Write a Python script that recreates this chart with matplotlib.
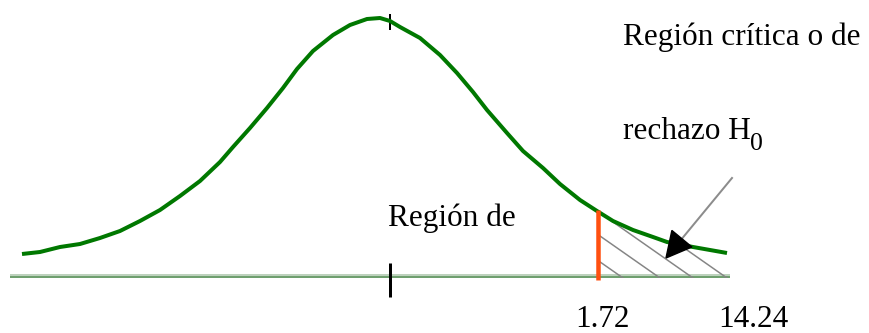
import matplotlib.pyplot as plt
import numpy as np
from matplotlib.patches import Polygon

# everything is in picture pixels (x right, y down)
curve_x = [22, 40, 60, 80, 100, 120, 140, 160, 180, 200, 220, 233, 250, 267, 283,
           297, 313, 333, 350, 367, 380, 390, 400, 420, 440, 457, 473, 487, 507,
           523, 543, 560, 580, 597, 613, 633, 653, 667, 693, 727]
curve_y = [254, 252, 247, 244, 238, 231, 221, 210, 196, 181, 162, 147, 128, 108, 88,
           69, 51, 35, 25, 19, 18, 21, 27, 38, 55, 73, 92, 110, 133,
           151, 168, 184, 200, 211, 221, 230, 237, 242, 247, 253]

axis_x = [10, 730]
axis_y = 276
center_x = 390
crit_x = 598
crit_top = 210
hatch_ends = [623, 660, 693, 727]   # where the hatch strokes meet the axis
hatch_slope = 0.7

arrow_start = (732, 178)
arrow_tip = (666, 258)

tick_labels = ['1.72', '14.24']
tick_label_x = [575, 718]

fig = plt.figure(figsize=(8.7, 3.33), dpi=100)
ax = fig.add_axes([0, 0, 1, 1])
ax.set_xlim(0, 870)
ax.set_ylim(333, 0)
ax.axis('off')

px = 72 / 100  # points per pixel

# axis line (two-tone)
ax.plot(axis_x, [axis_y - 1.5, axis_y - 1.5], color='#bdd2bd', lw=2 * px, solid_capstyle='butt', zorder=1)
ax.plot(axis_x, [axis_y + 0.7, axis_y + 0.7], color='#6f9f6f', lw=2 * px, solid_capstyle='butt', zorder=1)

# hatching of the tail, clipped to the area under the curve
tail = [(x, y) for x, y in zip(curve_x, curve_y) if x >= crit_x]
clip = Polygon([(crit_x, crit_top)] + tail + [(axis_x[1], axis_y + 2), (crit_x, axis_y + 2)],
               closed=True, transform=ax.transData, facecolor='none', edgecolor='none')
ax.add_patch(clip)
for xe in hatch_ends:
    x0 = xe - 150
    ln, = ax.plot([x0, xe], [axis_y + 2 - hatch_slope * 150, axis_y + 2], color='#858585',
                  lw=1.5 * px, zorder=2)
    ln.set_clip_path(clip)

# little mark hidden under the peak
ax.plot([center_x, center_x], [15, 29], color='black', lw=2 * px, zorder=2)

# bell curve
ax.plot(curve_x, curve_y, color='#007800', lw=4 * px, solid_joinstyle='round',
        solid_capstyle='butt', zorder=3)

# centre tick
ax.plot([center_x, center_x], [263, 297], color='black', lw=3 * px, solid_capstyle='butt', zorder=4)

# critical value line
ax.plot([crit_x, crit_x], [crit_top, 280], color='#ff5010', lw=4.5 * px, solid_capstyle='butt', zorder=4)

# arrow: grey shaft, black head
d = np.array(arrow_tip) - np.array(arrow_start)
d = d / np.hypot(*d)
n = np.array([-d[1], d[0]])
base = np.array(arrow_tip) - 25 * d
ax.plot([arrow_start[0], base[0]], [arrow_start[1], base[1]], color='#8c8c8c', lw=2 * px, zorder=5)
head = Polygon([arrow_tip, base + 13 * n, base - 13 * n], closed=True, color='black', zorder=6)
ax.add_patch(head)

# texts
serif = 'Liberation Serif'
fs = 22.5
ax.text(623, 45, 'Región crítica o de', fontsize=fs, family=serif, ha='left', va='baseline')
ax.text(623, 139, 'rechazo H', fontsize=fs, family=serif, ha='left', va='baseline')
ax.text(750, 150, '0', fontsize=18.5, family=serif, ha='left', va='baseline')
ax.text(388, 226, 'Región de', fontsize=fs, family=serif, ha='left', va='baseline')
for lab, x in zip(tick_labels, tick_label_x):
    ax.text(x, 327, lab, fontsize=fs, family=serif, ha='left', va='baseline')

fig.savefig('out.png', dpi=100)
